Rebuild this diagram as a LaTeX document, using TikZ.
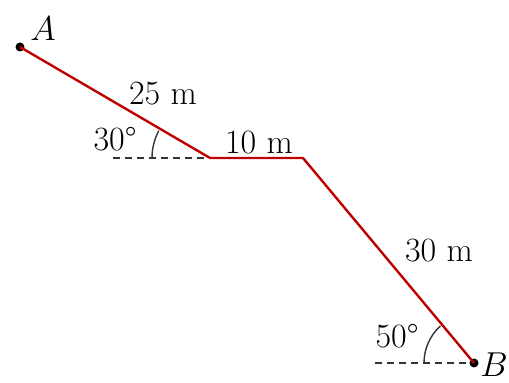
\documentclass[tikz,border=0pt]{standalone}
\usepackage{tikz}
\tikzset{
  route/.style={red!75!black, line width=1.2pt},
  level/.style={black!80, line width=0.7pt, dash pattern=on 3.5pt off 2.5pt},
  anglemark/.style={black!80, line width=0.7pt},
  dot/.style={circle, fill=black, inner sep=0pt, minimum size=4.5pt},
  lbl/.style={font=\fontsize{17}{20}\selectfont}
}
\begin{document}
\begin{tikzpicture}[x=0.5pt, y=0.5pt]
  \useasboundingbox (0,0) rectangle (509,383);
  \node[dot] (A) at (20,336) {};
  \coordinate (P) at (210,225);
  \coordinate (Q) at (303,225);
  \node[dot] (B) at (474,20) {};
  \coordinate (P0) at (113,225);
  \coordinate (B0) at (375,20);
  \draw[level] (P0) -- (P);
  \draw[level] (B0) -- (B);
  \draw[route] (A.center) -- (P) -- (Q) -- (B.center);
  \draw[anglemark] (P) ++(180:58) arc[start angle=180, end angle=152, radius=58];
  \draw[anglemark] (B) ++(180:50) arc[start angle=180, end angle=132, radius=50];
  \node[lbl] (lA) at (43,354) {$A$};
  \node[lbl] (lB) at (494,18) {$B$};
  \node[lbl] (d1) at (163,289) {25 m};
  \node[lbl] (d2) at (259,240) {10 m};
  \node[lbl] (d3) at (439,132) {30 m};
  \node[lbl] (a1) at (115,244) {30\textdegree};
  \node[lbl] (a2) at (397,47) {50\textdegree};
\end{tikzpicture}
\end{document}
